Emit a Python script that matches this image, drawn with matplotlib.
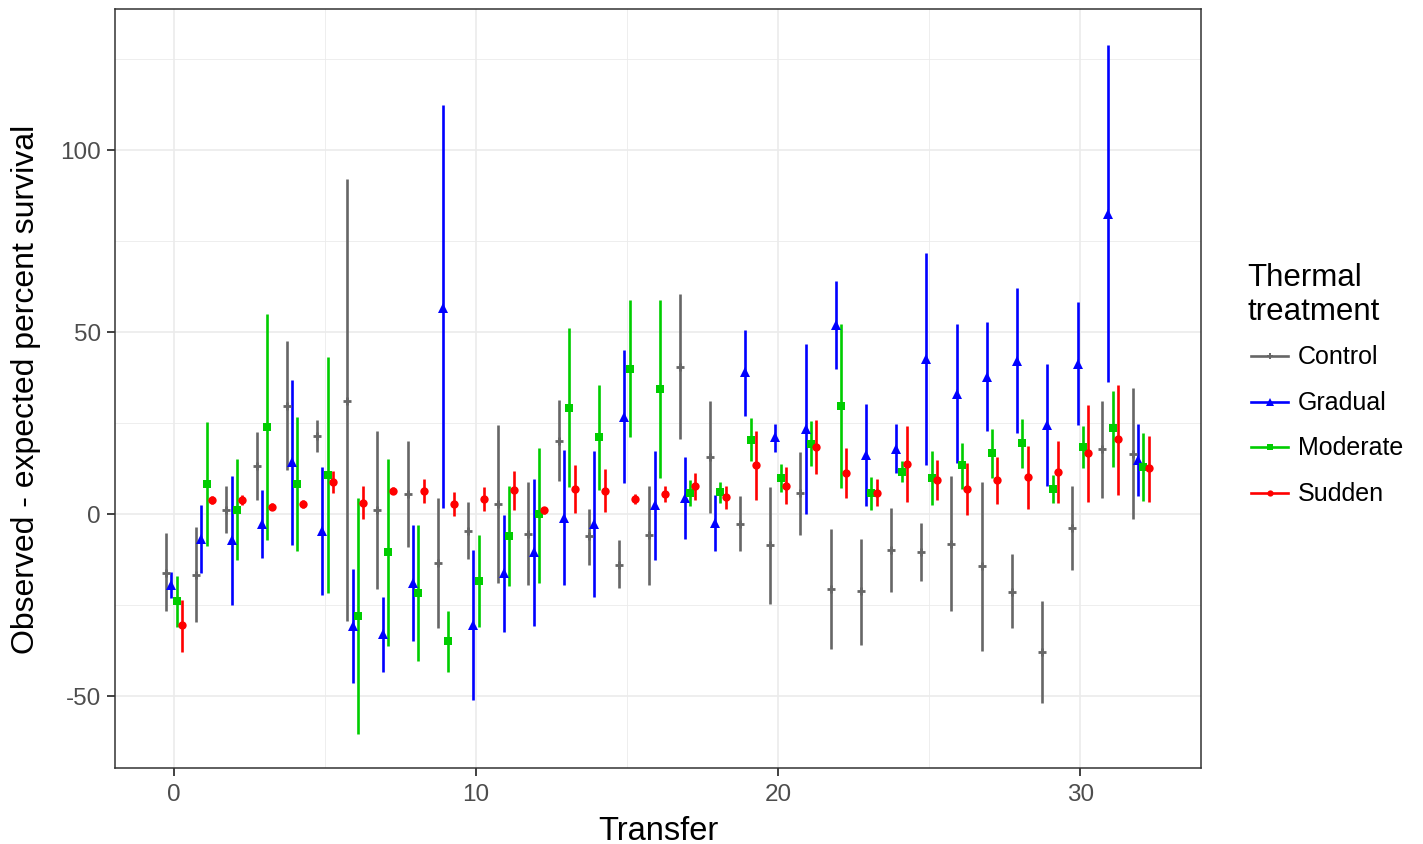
import numpy as np
import matplotlib
matplotlib.use("Agg")
import matplotlib.pyplot as plt
from matplotlib.lines import Line2D

plt.rcParams['font.family'] = ['Liberation Sans', 'DejaVu Sans']

# Transfer numbers
transfers = np.arange(33)

# Control: mean, lower, upper
control_mean = [-16.2, -16.8, 1.2, 13.1, 29.7, 21.3, 31.1, 1.0, 5.6, -13.4, -4.6, 2.8, -5.5, 20.1, -6.2, -13.9, -5.8,
                40.4, 15.7, -2.7, -8.6, 5.7, -20.6, -21.2, -9.9, -10.4, -8.2, -14.4, -21.4, -38.0, -3.8, 17.8, 16.4]
control_lo = [-26.8, -29.8, -5.2, 3.8, 12.1, 17.0, -29.4, -20.6, -9.1, -31.3, -12.4, -19.1, -19.4, 9.0, -13.9, -20.4, -19.6,
              20.5, 0.2, -10.1, -24.7, -5.7, -37.2, -35.9, -21.4, -18.4, -26.6, -37.7, -31.4, -51.9, -15.4, 4.4, -1.5]
control_hi = [-5.2, -3.6, 7.6, 22.4, 47.4, 25.8, 92.0, 22.9, 20.0, 4.5, 3.2, 24.4, 8.7, 31.3, 1.4, -7.3, 7.7,
              60.5, 31.1, 4.8, 7.4, 16.9, -4.2, -6.8, 1.5, -2.4, 10.3, 8.8, -11.1, -23.9, 7.6, 31.0, 34.6]

# Gradual
gradual_mean = [-19.5, -6.8, -7.1, -2.7, 14.2, -4.6, -30.7, -33.1, -19.1, 56.6, -30.4, -16.3, -10.6, -1.0, -2.7, 26.5, 2.5,
                4.3, -2.6, 38.9, 21.0, 23.2, 51.8, 16.2, 17.9, 42.5, 33.0, 37.6, 42.0, 24.3, 41.1, 82.5, 14.9]
gradual_lo = [-23.0, -16.2, -24.9, -12.0, -8.5, -22.2, -46.4, -43.3, -35.0, 1.5, -51.0, -32.5, -30.7, -19.6, -22.7, 8.5, -12.7,
              -7.0, -10.1, 27.0, 17.0, -0.1, 39.9, 2.1, 11.3, 13.4, 14.1, 22.9, 22.1, 7.6, 24.3, 36.3, 4.8]
gradual_hi = [-15.9, 2.5, 10.4, 6.6, 36.7, 12.9, -15.0, -22.7, -3.1, 112.3, -9.8, -0.3, 9.5, 17.5, 17.2, 45.0, 17.4,
              15.5, 5.1, 50.5, 24.7, 46.6, 64.1, 30.3, 24.7, 71.6, 52.1, 52.8, 62.0, 41.3, 58.3, 128.8, 24.7]

# Moderate
moderate_mean = [-23.8, 8.2, 1.2, 23.9, 8.2, 10.7, -28.0, -10.4, -21.8, -34.8, -18.4, -6.2, -0.1, 29.1, 21.0, 39.9, 34.2,
                 5.7, 5.9, 20.3, 10.0, 19.3, 29.6, 5.7, 11.5, 10.0, 13.3, 16.7, 19.4, 6.9, 18.4, 23.7, 13.0]
moderate_lo = [-31.0, -8.8, -12.6, -7.1, -10.2, -21.6, -60.4, -36.2, -40.5, -43.3, -31.0, -19.9, -18.9, 7.4, 6.7, 21.0, 9.8,
               2.3, 3.1, 14.4, 5.9, 13.1, 7.2, 1.0, 8.8, 2.5, 6.9, 10.0, 12.7, 2.9, 12.7, 13.0, 3.5]
moderate_hi = [-17.0, 25.2, 15.0, 55.0, 26.6, 43.1, 4.3, 15.0, -3.1, -26.6, -5.8, 7.6, 18.1, 51.2, 35.5, 58.8, 58.7,
               9.3, 8.8, 26.3, 13.8, 25.5, 52.1, 10.2, 14.4, 17.4, 19.6, 23.4, 26.0, 10.8, 24.1, 33.8, 22.2]

# Sudden
sudden_mean = [-30.6, 3.8, 3.8, 2.0, 2.7, 8.8, 3.1, 6.4, 6.3, 2.7, 4.1, 6.6, 1.0, 6.9, 6.4, 4.0, 5.6,
               7.6, 4.6, 13.4, 7.7, 18.5, 11.3, 5.7, 13.8, 9.3, 6.9, 9.2, 10.2, 11.5, 16.8, 20.5, 12.6]
sudden_lo = [-37.8, 2.6, 2.4, 1.0, 1.7, 5.7, -1.3, 5.4, 3.1, -0.6, 0.8, 1.2, 0.0, 0.2, 0.5, 2.8, 3.3,
             3.8, 1.4, 3.8, 2.6, 11.0, 4.3, 2.1, 3.3, 3.8, -0.3, 2.6, 1.4, 2.9, 3.3, 5.2, 3.3]
sudden_hi = [-23.6, 5.0, 5.2, 3.0, 3.7, 11.8, 7.6, 7.4, 9.5, 6.1, 7.4, 11.8, 1.8, 13.4, 12.3, 5.4, 7.6,
             11.3, 7.7, 22.9, 12.8, 25.8, 18.2, 9.5, 24.1, 14.8, 14.1, 15.7, 18.6, 19.9, 30.0, 35.3, 21.5]

groups = ['Control', 'Gradual', 'Moderate', 'Sudden']
means = [control_mean, gradual_mean, moderate_mean, sudden_mean]
lows = [control_lo, gradual_lo, moderate_lo, sudden_lo]
highs = [control_hi, gradual_hi, moderate_hi, sudden_hi]
colors = ['#666666', '#0000FF', '#00CD00', '#FF0000']
markers = ['+', '^', 's', 'o']
msizes = [6, 7, 6, 6]

fig = plt.figure(figsize=(14.23, 8.45), dpi=100)
ax = fig.add_axes([115 / 1423, 1 - 769 / 845, 1086 / 1423, 759 / 845])

# dodge the groups like ggplot position_dodge(0.7)
offsets = np.array([-0.2625, -0.0875, 0.0875, 0.2625])
for i, g in enumerate(groups):
    x = transfers + offsets[i]
    ax.vlines(x, lows[i], highs[i], color=colors[i], lw=1.9, zorder=3)
    ax.plot(x, means[i], linestyle='none', marker=markers[i], ms=msizes[i], color=colors[i],
            mew=2.0 if markers[i] == '+' else 0, zorder=4)

ax.set_xlim(-1.95, 34.0)
ax.set_ylim(-69.8, 138.7)
ax.set_xticks([0, 10, 20, 30])
ax.set_xticks([5, 15, 25], minor=True)
ax.set_yticks([-50, 0, 50, 100])
ax.set_yticks([-25, 25, 75, 125], minor=True)
ax.set_yticklabels(['-50', '0', '50', '100'])
ax.grid(which='major', color='#EBEBEB', lw=1.2, zorder=0)
ax.grid(which='minor', color='#EBEBEB', lw=0.6, zorder=0)
ax.set_axisbelow(True)
for s in ax.spines.values():
    s.set_color('#333333')
    s.set_linewidth(1.1)
ax.tick_params(which='major', length=5.5, width=1.3, color='#333333', labelsize=17.5, labelcolor='#4D4D4D')
ax.tick_params(axis='x', which='major', pad=5.5)
ax.tick_params(axis='y', which='major', pad=4.8)
ax.tick_params(which='minor', length=0)

ax.set_xlabel('Transfer', fontsize=23.5, labelpad=7)
ax.set_ylabel('Observed - expected percent survival', fontsize=23)
ax.yaxis.set_label_coords(-0.068, 0.5)

# legend drawn by hand in figure pixels
W, H = 1423, 845
fig.text(1247 / W, 1 - 286 / H, 'Thermal', fontsize=22.5, ha='left', va='baseline')
fig.text(1247 / W, 1 - 320 / H, 'treatment', fontsize=22.5, ha='left', va='baseline')
key_y = [357, 403, 448, 494]
for i, g in enumerate(groups):
    yy = 1 - key_y[i] / H
    fig.add_artist(Line2D([1251 / W, 1288 / W], [yy, yy], color=colors[i], lw=1.9, transform=fig.transFigure))
    fig.add_artist(Line2D([1269.5 / W], [yy], color=colors[i], marker=markers[i], ms=msizes[i] * 0.75,
                          mew=1.4 if markers[i] == '+' else 0, transform=fig.transFigure))
    fig.text(1298 / W, yy, g, fontsize=18, ha='left', va='center')

fig.savefig('out.png', dpi=100)
